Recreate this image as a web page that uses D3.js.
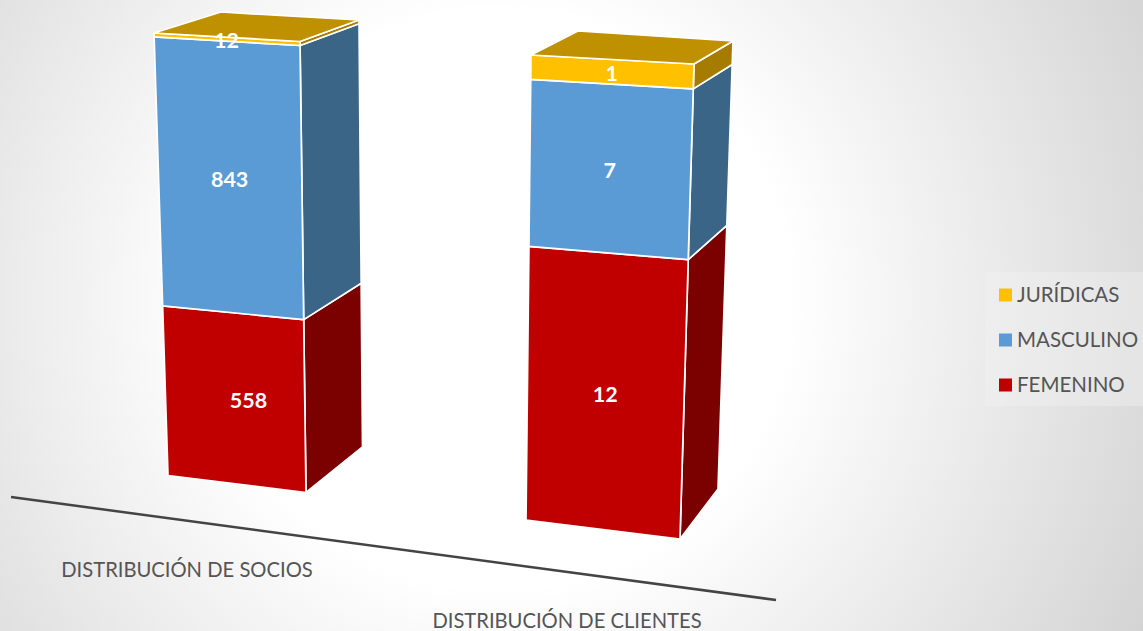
<!DOCTYPE html>
<html><head><meta charset="utf-8">
<script src="https://cdnjs.cloudflare.com/ajax/libs/d3/7.8.5/d3.min.js"></script>
<style>html,body{margin:0;padding:0;background:#fff;overflow:hidden}svg{display:block}</style>
</head><body><div id="c"></div>
<script>
// ---- data ----
const categories = ["DISTRIBUCIÓN DE SOCIOS", "DISTRIBUCIÓN DE CLIENTES"];
const seriesNames = ["FEMENINO", "MASCULINO", "JURÍDICAS"];
const femenino = [558, 12];
const masculino = [843, 7];
const juridicas = [12, 1];

// ---- layout ----
const W = 1143, H = 631;
const frontColors = ["#C00000", "#5B9BD5", "#FFC000"];
const sideColors = ["#7B0000", "#3A6587", "#A67C00"];
const topColor = "#BF9000";
// perspective frame of each bar: corners at base and at top
const frames = [
  {baseL:[168,475.5], baseR:[306,492.5], baseB:[362.5,447], topL:[154,33], topR:[300,41.5], topB:[359,20], topBL:[221,12]},
  {baseL:[526,520], baseR:[680,539], baseB:[718,489], topL:[531,55], topR:[694,64], topB:[733,41], topBL:[578,31]}
];
const labelNudge = [[[14,0],[0,0],[0,-1]],[[0,1],[0,-1],[0,-1]]];
const perspective = 1.05;
const axisLine = [[11,497],[776,600]];
const catLabelPos = [[187,569],[567,620]];

const svg = d3.select("#c").append("svg").attr("width",W).attr("height",H).attr("viewBox",`0 0 ${W} ${H}`);
const defs = svg.append("defs");
const grad = defs.append("radialGradient").attr("id","bg").attr("gradientUnits","userSpaceOnUse")
  .attr("cx",500).attr("cy",300).attr("r",760);
grad.selectAll("stop").data([[0,"#ffffff"],[0.38,"#ffffff"],[1,"#d0d0d0"]]).join("stop")
  .attr("offset",d=>d[0]).attr("stop-color",d=>d[1]);
svg.append("rect").attr("width",W).attr("height",H).attr("fill","url(#bg)");

// axis line
svg.append("line").attr("x1",axisLine[0][0]).attr("y1",axisLine[0][1]).attr("x2",axisLine[1][0]).attr("y2",axisLine[1][1])
  .attr("stroke","#444").attr("stroke-width",2.5);

const poly = d3.line();
const fontF = "Lato, Carlito, 'Open Sans', sans-serif";
const series = [femenino, masculino, juridicas];
const edge = 1.7;

categories.forEach((cat,i)=>{
  const f = frames[i];
  const total = d3.sum(series, s=>s[i]);
  const share = d3.scaleLinear().domain([0,total]).range([0,1]);
  const warp = t => t/(t + perspective*(1-t));
  const at = (a,b,v) => { const t = warp(share(v)); return [d3.interpolateNumber(a[0],b[0])(t), d3.interpolateNumber(a[1],b[1])(t)]; };
  const g = svg.append("g");
  const stack = d3.stack().keys([0,1,2]).value((d,k)=>series[k][d])([i]);
  stack.forEach((layer,k)=>{
    const [v0,v1] = layer[0];
    const fl0=at(f.baseL,f.topL,v0), fl1=at(f.baseL,f.topL,v1),
          fr0=at(f.baseR,f.topR,v0), fr1=at(f.baseR,f.topR,v1),
          b0=at(f.baseB,f.topB,v0), b1=at(f.baseB,f.topB,v1);
    g.append("path").attr("d",poly([fr0,b0,b1,fr1])+"Z").attr("fill",sideColors[k]).attr("stroke","#fff").attr("stroke-width",edge).attr("stroke-linejoin","round");
    g.append("path").attr("d",poly([fl0,fr0,fr1,fl1])+"Z").attr("fill",frontColors[k]).attr("stroke","#fff").attr("stroke-width",edge).attr("stroke-linejoin","round");
  });
  g.append("path").attr("d",poly([f.topL,f.topR,f.topB,f.topBL])+"Z").attr("fill",topColor).attr("stroke","#fff").attr("stroke-width",edge).attr("stroke-linejoin","round");
  stack.forEach((layer,k)=>{
    const [v0,v1] = layer[0];
    const pts=[at(f.baseL,f.topL,v0),at(f.baseR,f.topR,v0),at(f.baseR,f.topR,v1),at(f.baseL,f.topL,v1)];
    g.append("text").attr("x",d3.mean(pts,p=>p[0])+labelNudge[i][k][0]-0.5).attr("y",d3.mean(pts,p=>p[1])+labelNudge[i][k][1]+2)
      .attr("text-anchor","middle").attr("dominant-baseline","central")
      .attr("font-family",fontF).attr("font-weight",700).attr("font-size",21.5).attr("fill","#fff").text(series[k][i]);
  });
  svg.append("text").attr("x",catLabelPos[i][0]).attr("y",catLabelPos[i][1]).attr("text-anchor","middle").attr("dominant-baseline","central")
    .attr("font-family",fontF).attr("font-size",20.2).attr("fill","#555").text(cat);
});

// legend
svg.append("rect").attr("x",985).attr("y",272).attr("width",158).attr("height",134).attr("fill","#f2f2f2").attr("fill-opacity",0.4);
const legendY = d3.scalePoint().domain([2,1,0]).range([295,385]);
[2,1,0].forEach(k=>{
  svg.append("rect").attr("x",999).attr("y",legendY(k)-6.5).attr("width",13).attr("height",13).attr("fill",frontColors[k]);
  svg.append("text").attr("x",1017).attr("y",legendY(k)-1).attr("dominant-baseline","central")
    .attr("font-family",fontF).attr("font-size",20.5).attr("fill","#555").text(seriesNames[k]);
});
</script></body></html>
